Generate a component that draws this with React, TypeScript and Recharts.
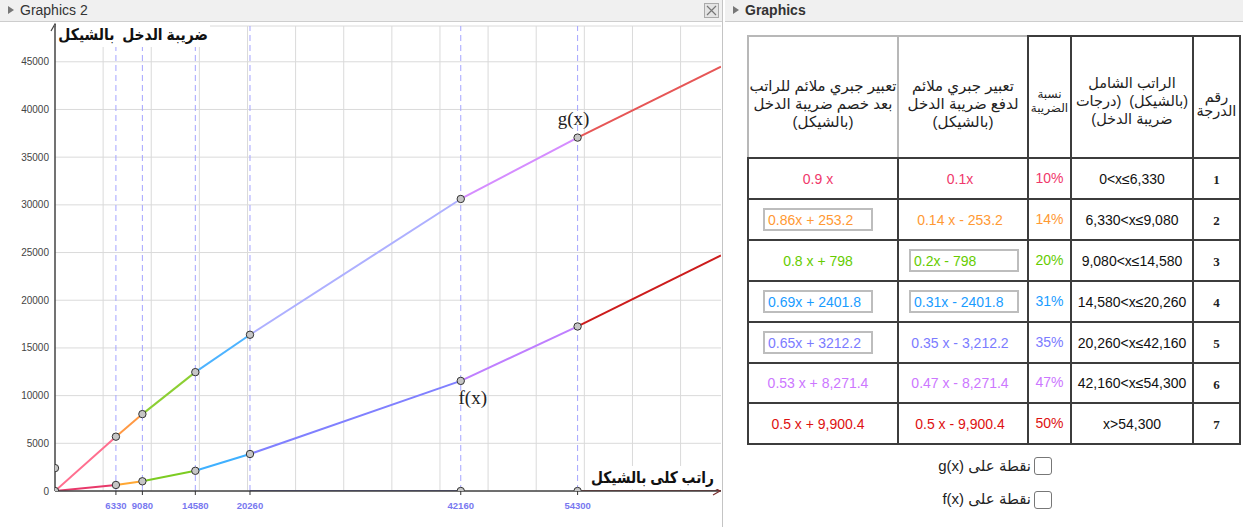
import React from "react";
import {
  ComposedChart, Line, Scatter, XAxis, YAxis, CartesianGrid, ReferenceLine, ReferenceDot,
} from "recharts";

// bracket edges (salary in shekels) and the two functions read at each edge
const EDGES = [0, 6330, 9080, 14580, 20260, 42160, 54300, 69200];
const TAX_AT = [0, 633, 1018, 2118, 3878.8, 11543.8, 17249.6, 24699.6]; // f(x)
const NET_AT = [0, 5697, 8062, 12462, 16381.2, 30616.2, 37050.4, 44500.4]; // g(x)

const NET_COLORS = ["#ff6f8f", "#ff9944", "#8ccf33", "#4db3ff", "#aeb0ff", "#d58dff", "#e65656"];
const TAX_COLORS = ["#e8386a", "#ffa733", "#7ccc22", "#3fb0ff", "#8080ff", "#bf7fff", "#cc1c1c"];

// parts of the x axis that are drawn in colour
const AXIS_SEGS = [[20260, 42160], [54300, 69200]];
const AXIS_SEG_COLORS = ["#50509c", "#8e2a2a"];

const EXTRA_POINTS = [
  { x: 0, y: 0 }, { x: 0, y: 2400 }, { x: 42160, y: 0 }, { x: 54300, y: 0 },
];

const X_TICKS = [6330, 9080, 14580, 20260, 42160, 54300];
const Y_TICKS = [0, 5000, 10000, 15000, 20000, 25000, 30000, 35000, 40000, 45000];
const GRID_X = [5000, 10000, 15000, 20000, 25000, 30000, 35000, 40000, 45000, 50000, 55000, 60000, 65000];

// table
const LEVELS = ["1", "2", "3", "4", "5", "6", "7"];
const RANGES = ["0<x≤6,330", "6,330<x≤9,080", "9,080<x≤14,580", "14,580<x≤20,260", "20,260<x≤42,160", "42,160<x≤54,300", "x>54,300"];
const RATES = ["10%", "14%", "20%", "31%", "35%", "47%", "50%"];
const TAX_EXPR = ["0.1x", "0.14 x - 253.2", "0.2x - 798", "0.31x - 2401.8", "0.35 x - 3,212.2", "0.47 x - 8,271.4", "0.5 x - 9,900.4"];
const NET_EXPR = ["0.9 x", "0.86x + 253.2", "0.8 x + 798", "0.69x + 2401.8", "0.65x + 3212.2", "0.53 x + 8,271.4", "0.5 x + 9,900.4"];
const ROW_COLORS = ["#f0386b", "#ff9933", "#66cc00", "#1a9cff", "#7b7bff", "#cc77ff", "#dd1111"];
const NET_BOXED = [false, true, false, true, true, false, false];
const TAX_BOXED = [false, false, true, true, false, false, false];

const COL_X = [747, 897, 1027, 1070, 1192, 1239];
const ROW_Y = [35, 157, 198, 239, 280, 321, 362, 402, 443];

const SANS = "'Liberation Sans', Arial, 'DejaVu Sans', sans-serif";

const segment = (vals: number[], i: number) => [
  { x: EDGES[i], y: vals[i] },
  { x: EDGES[i + 1], y: vals[i + 1] },
];

const dotShape = (p: any) => (
  <circle cx={p.cx} cy={p.cy} r={3.7} fill="#c6c6c6" stroke="#333" strokeWidth={1} />
);

// arrow heads at the ends of the axes
const YArrow = (p: any) => {
  const { x, y, width } = p.viewBox;
  const ax = x + width;
  return <path d={`M${ax - 4},${y + 5} L${ax},${y - 2} L${ax + 4},${y + 5}`} fill="none" stroke="#444" strokeWidth={1.2} />;
};
const XArrow = (p: any) => {
  const { x, y, width } = p.viewBox;
  const ax = x + width - 1;
  return <path d={`M${ax - 7},${y - 4} L${ax},${y} L${ax - 7},${y + 4}`} fill="none" stroke="#7a3030" strokeWidth={1.2} />;
};

function Cell({ c, r, light, align, pad, children, style }: any) {
  return (
    <div
      style={{
        position: "absolute", left: COL_X[c], top: ROW_Y[r],
        width: COL_X[c + 1] - COL_X[c] + 2, height: ROW_Y[r + 1] - ROW_Y[r] + 2,
        boxSizing: "border-box", border: `2px solid ${light ? "#b8b8b8" : "#3c3c3c"}`,
        display: "flex", alignItems: "center", justifyContent: align ?? "center",
        paddingLeft: pad ?? 0, fontFamily: SANS, fontSize: 14, background: "#fff",
        ...style,
      }}
    >
      {children}
    </div>
  );
}

function Box({ color, children }: any) {
  return (
    <div style={{
      width: 110, height: 23, boxSizing: "border-box", border: "2px solid #bdbdbd",
      display: "flex", alignItems: "center", paddingLeft: 3, color, whiteSpace: "nowrap",
    }}>{children}</div>
  );
}

function PanelHeader({ left, width, title, bold }: any) {
  return (
    <div style={{
      position: "absolute", left, top: 0, width, height: 21, background: "#f0f0f0",
      borderBottom: "1px solid #cdcdcd", fontFamily: SANS, fontSize: 14, color: "#333",
    }}>
      <span style={{
        position: "absolute", left: 8, top: 6, width: 0, height: 0,
        borderLeft: "6px solid #777", borderTop: "4px solid transparent", borderBottom: "4px solid transparent",
      }} />
      <span style={{ position: "absolute", left: 20, top: 2, fontWeight: bold ? "bold" : "normal" }}>{title}</span>
    </div>
  );
}

export default function App() {
  const header = [
    ["تعبير جبري ملائم للراتب", "بعد خصم ضريبة الدخل", "(بالشيكل)"],
    ["تعبير جبري ملائم", "لدفع ضريبة الدخل", "(بالشيكل)"],
    ["نسبة", "الضريبة"],
    ["الراتب الشامل", "(بالشيكل)  (درجات", "ضريبة الدخل)"],
    ["رقم", "الدرجة"],
  ];

  return (
    <div style={{ position: "absolute", left: 0, top: 0, width: 1243, height: 527, background: "#fff", overflow: "hidden" }}>
      <PanelHeader left={0} width={722} title="Graphics 2" />
      <div style={{
        position: "absolute", left: 704, top: 3, width: 15, height: 15, boxSizing: "border-box",
        border: "1px solid #aaa", background: "#e4e4e4",
      }}>
        <svg width={13} height={13} style={{ display: "block" }}>
          <path d="M2,2 L11,11 M11,2 L2,11" stroke="#777" strokeWidth={1.2} />
        </svg>
      </div>
      <div style={{ position: "absolute", left: 722, top: 0, width: 1, height: 527, background: "#c4c4c4" }} />
      <PanelHeader left={725} width={518} title="Graphics" bold />

      <div style={{ position: "absolute", left: 0, top: 22 }}>
        <ComposedChart width={722} height={505} margin={{ top: 4, right: 1, bottom: 0, left: 0 }}>
          <CartesianGrid vertical={false} stroke="#dadada" />
          {GRID_X.map((v) => (
            <ReferenceLine key={"g" + v} x={v} stroke="#dadada" strokeWidth={1} />
          ))}
          {X_TICKS.map((v) => (
            <ReferenceLine key={"d" + v} x={v} stroke="#a4a4ff" strokeWidth={1} strokeDasharray="6 4" />
          ))}
          <XAxis
            dataKey="x" type="number" domain={[0, 69200]} allowDataOverflow ticks={X_TICKS}
            height={36} tickSize={4} tickMargin={7} interval={0}
            tick={{ fill: "#7878f0", fontSize: 9.5, fontWeight: "bold", fontFamily: SANS }}
            tickLine={{ stroke: "#333" }}
            axisLine={{ stroke: "#444", strokeWidth: 1.5 }}
            label={{ content: XArrow }}
          />
          <YAxis
            dataKey="y" type="number" domain={[0, 48750]} allowDataOverflow ticks={Y_TICKS}
            width={55} tickSize={6} tickMargin={0} tickLine={false} interval={0}
            tick={{ fill: "#444", fontSize: 10, fontFamily: SANS }}
            axisLine={{ stroke: "#444", strokeWidth: 1.5 }}
            label={{ content: YArrow }}
          />
          {AXIS_SEGS.map((s, i) => (
            <Line key={"a" + i} data={[{ x: s[0], y: 0 }, { x: s[1], y: 0 }]} dataKey="y"
              stroke={AXIS_SEG_COLORS[i]} strokeWidth={2} dot={false} isAnimationActive={false} />
          ))}
          {TAX_COLORS.map((col, i) => (
            <Line key={"f" + i} data={segment(TAX_AT, i)} dataKey="y" type="linear"
              stroke={col} strokeWidth={2} dot={false} isAnimationActive={false} />
          ))}
          {NET_COLORS.map((col, i) => (
            <Line key={"n" + i} data={segment(NET_AT, i)} dataKey="y" type="linear"
              stroke={col} strokeWidth={2} dot={false} isAnimationActive={false} />
          ))}
          <Scatter
            data={[
              ...EXTRA_POINTS,
              ...EDGES.slice(1, 7).map((x, i) => ({ x, y: NET_AT[i + 1] })),
              ...EDGES.slice(1, 7).map((x, i) => ({ x, y: TAX_AT[i + 1] })),
            ]}
            dataKey="y" shape={dotShape} isAnimationActive={false}
          />
          <ReferenceDot x={EDGES[6]} y={NET_AT[6]} r={0} fill="none" stroke="none"
            label={{ value: "g(x)", position: "top", offset: 13, dx: -4, fill: "#222", fontSize: 19, fontFamily: "'Liberation Serif', serif" }} />
          <ReferenceDot x={EDGES[5]} y={TAX_AT[5]} r={0} fill="none" stroke="none"
            label={{ value: "f(x)", position: "bottom", offset: 10, dx: 12, fill: "#222", fontSize: 19, fontFamily: "'Liberation Serif', serif" }} />
        </ComposedChart>
      </div>

      <div style={{ position: "absolute", left: 56, top: 23, width: 154, height: 24, background: "#fff" }}>
        <div dir="rtl" style={{
          position: "absolute", right: 2, top: 0, whiteSpace: "pre", fontFamily: SANS, fontWeight: "bold",
          fontSize: 16, color: "#111", lineHeight: "24px", transform: "scaleX(0.87)", transformOrigin: "right center",
        }}>ضريبة الدخل  بالشيكل</div>
      </div>
      <div style={{ position: "absolute", left: 586, top: 466, width: 132, height: 23, background: "#fff" }}>
        <div dir="rtl" style={{
          position: "absolute", right: 4, top: 0, whiteSpace: "pre", fontFamily: SANS, fontWeight: "bold",
          fontSize: 16, color: "#111", lineHeight: "23px", transform: "scaleX(0.86)", transformOrigin: "right center",
        }}>راتب كلى بالشيكل</div>
      </div>

      {/* table */}
      {header.slice(0, 2).map((lines, c) => (
        <Cell key={"h" + c} c={c} r={0} light style={{ paddingTop: 14 }}>
          <div dir="rtl" style={{ textAlign: "center", lineHeight: "18px", fontSize: 15, color: "#222", whiteSpace: "nowrap" }}>
            {lines.map((l, k) => <div key={k}>{l}</div>)}
          </div>
        </Cell>
      ))}
      {header.slice(2).map((lines, k) => (
        <Cell key={"h" + (k + 2)} c={k + 2} r={0} style={{ paddingTop: k === 2 ? 14 : 8 }}>
          <div dir="rtl" style={{
            textAlign: "center", lineHeight: k === 0 ? "14px" : k === 2 ? "14px" : "18px", whiteSpace: "pre",
            color: "#222", fontSize: k === 0 ? 12 : 14.5,
          }}>
            {lines.map((l, j) => <div key={j}>{l}</div>)}
          </div>
        </Cell>
      ))}
      {LEVELS.map((lv, i) => (
        <React.Fragment key={"r" + i}>
          <Cell c={0} r={i + 1} align={NET_BOXED[i] ? "flex-start" : "center"} pad={NET_BOXED[i] ? 14 : 0}>
            {NET_BOXED[i] ? <Box color={ROW_COLORS[i]}>{NET_EXPR[i]}</Box>
              : <span style={{ color: ROW_COLORS[i], marginRight: 10 }}>{NET_EXPR[i]}</span>}
          </Cell>
          <Cell c={1} r={i + 1} align={TAX_BOXED[i] ? "flex-start" : "center"} pad={TAX_BOXED[i] ? 10 : 0}>
            {TAX_BOXED[i] ? <Box color={ROW_COLORS[i]}>{TAX_EXPR[i]}</Box>
              : <span style={{ color: ROW_COLORS[i], marginRight: 6 }}>{TAX_EXPR[i]}</span>}
          </Cell>
          <Cell c={2} r={i + 1}><span style={{ color: ROW_COLORS[i], marginBottom: 2 }}>{RATES[i]}</span></Cell>
          <Cell c={3} r={i + 1}><span style={{ color: "#111" }}>{RANGES[i]}</span></Cell>
          <Cell c={4} r={i + 1}>
            <span style={{ fontFamily: "'Liberation Serif', serif", fontWeight: "bold", fontSize: 13, color: "#222", marginTop: 3 }}>{lv}</span>
          </Cell>
        </React.Fragment>
      ))}

      {/* checkboxes */}
      {["نقطة على g(x)", "نقطة على f(x)"].map((t, i) => (
        <React.Fragment key={"cb" + i}>
          <div dir="rtl" style={{
            position: "absolute", left: 880, top: 455 + i * 33, width: 151, height: 22,
            textAlign: "right", fontFamily: SANS, fontSize: 15, color: "#222", lineHeight: "22px",
          }}>{t}</div>
          <div style={{
            position: "absolute", left: 1034, top: 457 + i * 34, width: 18, height: 18,
            boxSizing: "border-box", border: "1.5px solid #777", borderRadius: 3, background: "#fff",
          }} />
        </React.Fragment>
      ))}
    </div>
  );
}
